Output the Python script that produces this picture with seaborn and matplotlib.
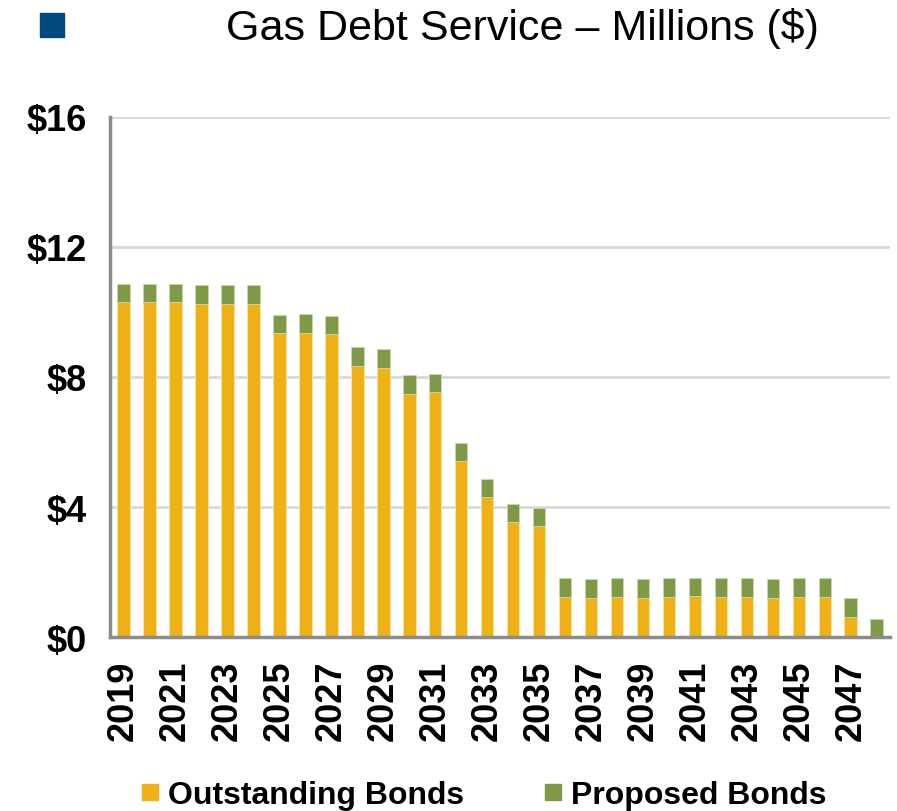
import pandas as pd
import matplotlib.pyplot as plt
import seaborn as sns
from matplotlib.lines import Line2D
from matplotlib.patches import Rectangle

years = [str(y) for y in range(2019, 2049)]
outstanding = [10.30, 10.29, 10.29, 10.25, 10.25, 10.25, 9.34, 9.35, 9.32, 8.35,
               8.29, 7.49, 7.54, 5.41, 4.30, 3.53, 3.42, 1.24, 1.22, 1.24,
               1.22, 1.24, 1.26, 1.24, 1.24, 1.22, 1.24, 1.24, 0.62, 0.00]
proposed = [0.56, 0.57, 0.57, 0.58, 0.58, 0.58, 0.58, 0.58, 0.57, 0.57,
            0.57, 0.57, 0.56, 0.57, 0.56, 0.56, 0.56, 0.57, 0.56, 0.57,
            0.57, 0.57, 0.56, 0.57, 0.57, 0.57, 0.57, 0.57, 0.58, 0.57]
yticks = [0, 4, 8, 12, 16]

df = pd.DataFrame({'year': years, 'outstanding': outstanding, 'proposed': proposed})

orange = '#EFB115'
green = '#7F9A47'
grey = '#8C8C8C'

sns.set_style('white')
plt.rcParams['font.family'] = ['Liberation Sans', 'DejaVu Sans']
plt.rcParams['text.color'] = 'black'

fig = plt.figure(figsize=(8.97, 8.12), dpi=100)
ax = fig.add_axes([0.123, 0.214, 0.869, 0.641])

sns.barplot(data=df, x='year', y='outstanding', color=orange, width=0.49,
            saturation=1, edgecolor='#F6E3A8', linewidth=0.6, ax=ax, zorder=3)
sns.barplot(data=df, x='year', y='proposed', bottom=df['outstanding'], color=green,
            width=0.49, saturation=1, edgecolor='#C9D6AE', linewidth=0.6, ax=ax, zorder=3)

ax.set_xlim(-0.5, len(years) - 0.5)
ax.set_ylim(0, 16)
ax.set_yticks(yticks)
ax.set_yticklabels([f'${v}' for v in yticks], fontsize=26, fontweight='bold')
ax.yaxis.grid(True, color='#D9D9D9', linewidth=2, zorder=0)

ax.set_xticks(range(0, len(years), 2))
ax.set_xticklabels(years[::2], rotation=90, fontsize=26, fontweight='bold')
ax.set_xticks([i - 0.5 for i in range(1, len(years) + 1)], minor=True)
ax.tick_params(axis='x', which='major', length=0, pad=16, labelcolor='black')
ax.tick_params(axis='x', which='minor', length=10, width=2, color=grey, direction='out')
ax.tick_params(axis='y', length=7, width=2, color=grey, pad=10, direction='out',
               labelcolor='black')
ax.set_xlabel('')
ax.set_ylabel('')

sns.despine(ax=ax)
for s in ['left', 'bottom']:
    ax.spines[s].set_color(grey)
    ax.spines[s].set_linewidth(2.5)
    ax.spines[s].set_zorder(4)

fig.patches.append(Rectangle((40 / 897, 1 - 38 / 812), 24 / 897, 24 / 812,
                             transform=fig.transFigure, color='#004A80'))
fig.text(0.582, 0.965, 'Gas Debt Service \u2013 Millions ($)', fontsize=31,
         ha='center', va='center', color='black')

handles = [Line2D([], [], marker='s', linestyle='none', markersize=11, color=orange),
           Line2D([], [], marker='s', linestyle='none', markersize=11, color=green)]
fig.legend(handles, ['Outstanding Bonds', 'Proposed Bonds'], loc='center',
           bbox_to_anchor=(0.537, 0.02), ncol=2, frameon=False,
           prop={'size': 23, 'weight': 'bold'}, handletextpad=0.15,
           columnspacing=2.4, handlelength=0.8, labelcolor='black')

fig.savefig('out.png', dpi=100)
